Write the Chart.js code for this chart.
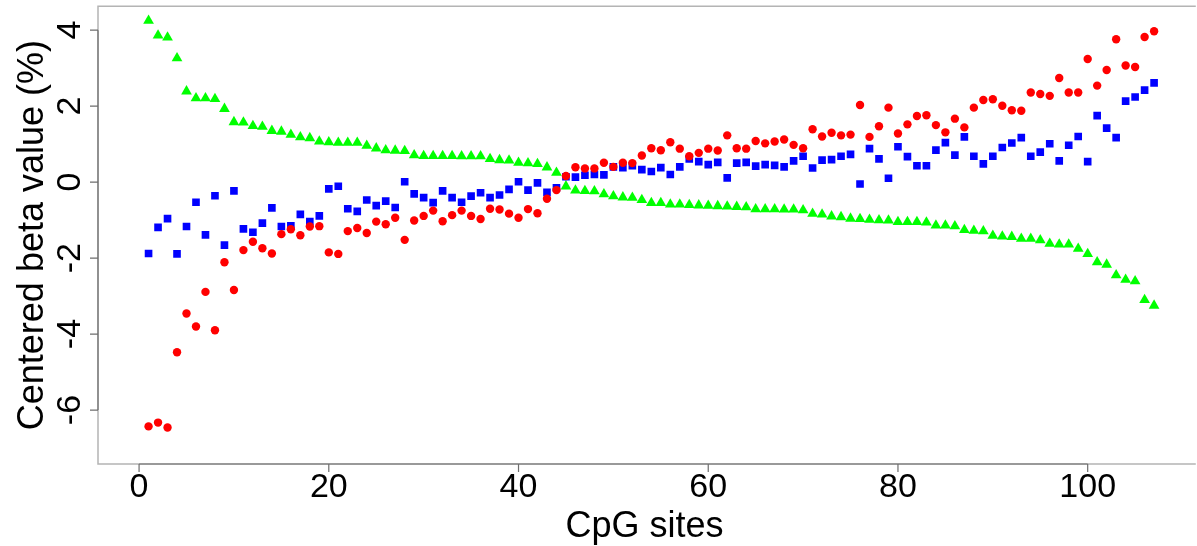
<!DOCTYPE html>
<html>
<head>
<meta charset="utf-8">
<script src="https://cdn.jsdelivr.net/npm/chart.js@4.4.1/dist/chart.umd.min.js"></script>
<style>
  html, body { margin: 0; padding: 0; background: #fff; }
  #wrap { width: 1197px; height: 546px; position: relative; }
</style>
</head>
<body>
<div id="wrap"><canvas id="cpg-chart"></canvas></div>
<script>
// CpG sites scatter — centered beta values, three groups

// ── Data (sites 1..107) ────────────────────────────────────────────────────────
const redValues = [
  -6.43, -6.33, -6.46, -4.48, -3.46, -3.80, -2.89, -3.90, -2.11, -2.84,
  -1.79, -1.57, -1.74, -1.88, -1.37, -1.24, -1.40, -1.17, -1.16, -1.85,
  -1.89, -1.29, -1.21, -1.34, -1.04, -1.11, -0.94, -1.52, -1.01, -0.89,
  -0.75, -1.03, -0.87, -0.75, -0.89, -0.97, -0.70, -0.72, -0.83, -0.94,
  -0.71, -0.82, -0.44, -0.21, 0.16, 0.39, 0.36, 0.36, 0.51, 0.40,
  0.51, 0.50, 0.70, 0.89, 0.84, 1.05, 0.88, 0.68, 0.77, 0.88,
  0.83, 1.23, 0.89, 0.88, 1.08, 1.02, 1.07, 1.12, 0.98, 0.89,
  1.39, 1.20, 1.30, 1.23, 1.25, 2.03, 1.19, 1.47, 1.96, 1.28,
  1.52, 1.74, 1.76, 1.50, 1.31, 1.67, 1.44, 1.96, 2.16, 2.18,
  2.01, 1.89, 1.88, 2.36, 2.32, 2.27, 2.74, 2.36, 2.36, 3.24,
  2.54, 2.95, 3.76, 3.07, 3.03, 3.82, 3.97,
];

const blueValues = [
  -1.88, -1.19, -0.96, -1.89, -1.17, -0.53, -1.39, -0.36, -1.66, -0.23,
  -1.23, -1.32, -1.08, -0.68, -1.17, -1.15, -0.85, -1.04, -0.89, -0.18,
  -0.11, -0.70, -0.77, -0.47, -0.62, -0.50, -0.67, 0.01, -0.31, -0.41,
  -0.54, -0.23, -0.41, -0.53, -0.37, -0.28, -0.41, -0.34, -0.19, 0.01,
  -0.21, -0.02, -0.27, -0.15, 0.14, 0.13, 0.18, 0.20, 0.19, 0.40,
  0.38, 0.43, 0.33, 0.28, 0.38, 0.20, 0.40, 0.61, 0.54, 0.46,
  0.52, 0.11, 0.50, 0.52, 0.42, 0.46, 0.44, 0.40, 0.56, 0.68,
  0.37, 0.58, 0.59, 0.68, 0.73, -0.05, 0.88, 0.61, 0.10, 0.93,
  0.67, 0.43, 0.43, 0.84, 1.04, 0.71, 1.19, 0.68, 0.48, 0.68,
  0.91, 1.03, 1.17, 0.68, 0.79, 1.01, 0.56, 0.97, 1.20, 0.54,
  1.75, 1.42, 1.17, 2.13, 2.24, 2.42, 2.61,
];

const greenValues = [
  4.25, 3.86, 3.81, 3.26, 2.39, 2.21, 2.21, 2.19, 1.93, 1.58,
  1.57, 1.48, 1.46, 1.35, 1.33, 1.25, 1.18, 1.16, 1.07, 1.05,
  1.04, 1.04, 1.04, 0.96, 0.89, 0.84, 0.83, 0.82, 0.71, 0.69,
  0.69, 0.69, 0.69, 0.68, 0.68, 0.68, 0.61, 0.58, 0.57, 0.51,
  0.50, 0.48, 0.39, 0.25, -0.11, -0.22, -0.23, -0.24, -0.32, -0.37,
  -0.40, -0.41, -0.47, -0.55, -0.55, -0.59, -0.59, -0.60, -0.61, -0.62,
  -0.63, -0.64, -0.65, -0.66, -0.71, -0.71, -0.71, -0.72, -0.72, -0.74,
  -0.83, -0.85, -0.90, -0.92, -0.96, -0.97, -0.99, -1.00, -1.01, -1.05,
  -1.05, -1.05, -1.06, -1.14, -1.14, -1.16, -1.26, -1.28, -1.29, -1.41,
  -1.43, -1.44, -1.49, -1.49, -1.53, -1.62, -1.64, -1.64, -1.75, -1.89,
  -2.11, -2.17, -2.45, -2.57, -2.61, -3.10, -3.25,
];

const xTicks = [0, 20, 40, 60, 80, 100];
const yTicks = [-6, -4, -2, 0, 2, 4];
const xTitle = 'CpG sites';
const yTitle = 'Centered beta value (%)';

// ── Helpers ────────────────────────────────────────────────────────────────────
const FONT = '"Liberation Sans", Arial, sans-serif';

function toPoints(values) {
  return values.map((v, i) => ({ x: i + 1, y: v }));
}

// R-style frame: light box, darker axis lines with outward ticks, rotated y labels
const rFrame = {
  id: 'rFrame',
  afterDraw(chart) {
    const { ctx, chartArea: a } = chart;
    const xs = chart.scales.x;
    const ys = chart.scales.y;
    ctx.save();

    // box (right side runs off the picture)
    ctx.strokeStyle = '#b4b4b4';
    ctx.lineWidth = 1.5;
    ctx.beginPath();
    ctx.moveTo(a.right + 5, a.top);
    ctx.lineTo(a.left, a.top);
    ctx.lineTo(a.left, a.bottom);
    ctx.lineTo(a.right + 5, a.bottom);
    ctx.stroke();

    // axes
    ctx.strokeStyle = '#6e6e6e';
    ctx.lineWidth = 1.2;
    const x0 = xs.getPixelForValue(xTicks[0]);
    const x1 = xs.getPixelForValue(xTicks[xTicks.length - 1]);
    ctx.beginPath();
    ctx.moveTo(x0, a.bottom);
    ctx.lineTo(x1, a.bottom);
    for (const t of xTicks) {
      const px = xs.getPixelForValue(t);
      ctx.moveTo(px, a.bottom);
      ctx.lineTo(px, a.bottom + 8);
    }
    const y0 = ys.getPixelForValue(yTicks[0]);
    const y1 = ys.getPixelForValue(yTicks[yTicks.length - 1]);
    ctx.moveTo(a.left, y0);
    ctx.lineTo(a.left, y1);
    for (const t of yTicks) {
      const py = ys.getPixelForValue(t);
      ctx.moveTo(a.left, py);
      ctx.lineTo(a.left - 8, py);
    }
    ctx.stroke();

    // tick labels
    ctx.fillStyle = '#000';
    ctx.font = `34px ${FONT}`;
    ctx.textAlign = 'center';
    ctx.textBaseline = 'alphabetic';
    for (const t of xTicks) {
      ctx.fillText(String(t), xs.getPixelForValue(t), 497);
    }
    for (const t of yTicks) {
      ctx.save();
      ctx.translate(80, ys.getPixelForValue(t));
      ctx.rotate(-Math.PI / 2);
      ctx.fillText(String(t), 0, 0);
      ctx.restore();
    }

    // axis titles
    ctx.font = `36px ${FONT}`;
    ctx.fillText(xTitle, (a.left + a.right) / 2, 537);
    ctx.save();
    ctx.translate(43, (a.top + a.bottom) / 2);
    ctx.rotate(-Math.PI / 2);
    ctx.fillText(yTitle, 0, 0);
    ctx.restore();

    ctx.restore();
  },
};

// ── Chart ──────────────────────────────────────────────────────────────────────
const chart = new Chart(document.getElementById('cpg-chart'), {
  type: 'scatter',
  data: {
    datasets: [
      {
        label: 'red',
        data: toPoints(redValues),
        pointStyle: 'circle',
        pointRadius: 4.2,
        backgroundColor: '#ff0000',
        borderWidth: 0,
      },
      {
        label: 'blue',
        data: toPoints(blueValues),
        pointStyle: 'rect',
        pointRadius: 5.4,
        backgroundColor: '#0000ff',
        borderWidth: 0,
      },
      {
        label: 'green',
        data: toPoints(greenValues),
        pointStyle: 'triangle',
        pointRadius: 6.2,
        backgroundColor: '#00ff00',
        borderWidth: 0,
      },
    ],
  },
  options: {
    responsive: true,
    maintainAspectRatio: false,
    animation: false,
    layout: { padding: { left: 98, right: 0, top: 6, bottom: 82 } },
    plugins: {
      legend: { display: false },
      tooltip: { enabled: false },
    },
    scales: {
      x: { type: 'linear', min: -4.33, max: 110.87, display: false },
      y: { type: 'linear', min: -7.42, max: 4.63, display: false },
    },
  },
  plugins: [rFrame],
});
</script>
</body>
</html>
